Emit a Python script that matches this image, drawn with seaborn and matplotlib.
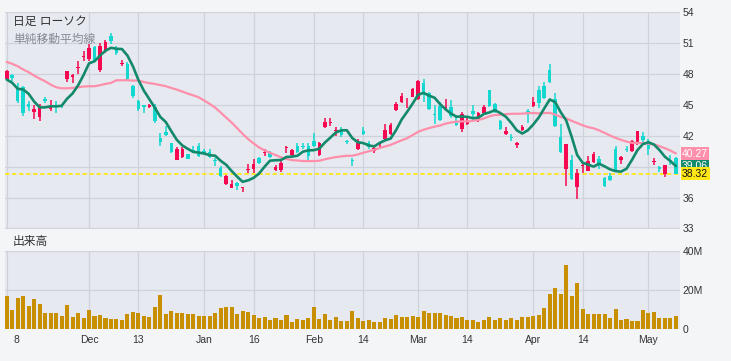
import matplotlib
matplotlib.use("Agg")
import matplotlib.pyplot as plt
import matplotlib.transforms as mtransforms
import numpy as np
import pandas as pd
import seaborn as sns

# ---------------- data ----------------
opens = [47.5, 47.85, 46.6, 46.75, 45.1, 44.3, 43.85, 45.55, 44.55, 44.95,
         44.85, 47.5, 47.68, 48.6, 49.65, 49.4, 50.6, 48.42, 50.2, 51.65,
         50.5, 49.0, 48.95, 46.8, 45.35, 44.95, 44.8, 44.8, 41.8, 42.35,
         41.25, 39.65, 39.95, 40.2, 40.65, 41.05, 40.5, 40.45, 39.6, 38.9,
         37.3, 36.97, 37.45, 36.95, 38.7, 38.8, 39.8, 40.35, 40.35, 38.7,
         38.7, 40.8, 40.15, 41.0, 41.05, 41.0, 41.5, 40.13, 42.85, 43.28,
         42.45, 42.55, 41.45, 39.65, 40.68, 42.45, 41.25, 40.52, 41.15, 41.65,
         42.13, 44.5, 45.25, 44.95, 45.77, 45.52, 47.1, 46.1, 44.1, 44.87,
         44.65, 44.77, 43.25, 42.68, 43.16, 44.4, 43.58, 44.23, 46.42, 45.03,
         43.42, 42.13, 41.9, 41.13, 42.55, 44.35, 44.87, 46.48, 46.78, 48.35,
         45.6, 41.86, 38.8, 39.6, 37.03, 39.05, 38.6, 39.45, 39.77, 37.9,
         38.1, 40.75, 39.63, 40.74, 40.55, 41.2, 41.95, 41.45, 39.42, 38.95,
         38.26, 39.6, 39.8]
highs = [48.4, 48.0, 47.15, 46.8, 45.4, 45.0, 45.05, 45.8, 45.45, 45.4,
         45.0, 48.3, 48.0, 49.25, 50.2, 50.85, 50.75, 50.95, 51.3, 51.95,
         50.7, 49.3, 49.15, 46.95, 45.5, 45.0, 45.1, 45.1, 42.25, 42.95,
         41.3, 40.9, 40.9, 40.25, 41.0, 41.25, 40.75, 40.7, 39.8, 39.05,
         38.2, 37.7, 37.5, 37.05, 39.25, 39.75, 39.9, 40.75, 40.5, 39.15,
         39.55, 41.0, 40.7, 41.25, 41.3, 41.25, 42.3, 41.4, 43.75, 43.75,
         42.8, 42.85, 41.55, 39.85, 41.7, 42.85, 41.5, 40.95, 41.42, 43.1,
         43.25, 45.25, 46.1, 45.7, 46.65, 47.45, 47.55, 46.25, 45.0, 45.25,
         45.6, 45.45, 43.9, 44.3, 43.75, 44.95, 44.3, 44.97, 46.45, 45.2,
         43.5, 42.87, 42.15, 41.42, 43.0, 44.55, 45.77, 46.87, 47.2, 49.0,
         46.15, 43.1, 41.2, 40.13, 38.8, 39.3, 40.0, 40.4, 40.03, 37.97,
         38.4, 41.0, 40.03, 41.0, 41.55, 42.5, 42.35, 41.65, 39.87, 39.05,
         39.2, 40.1, 39.9]
lows = [47.45, 47.35, 45.2, 43.95, 44.4, 43.6, 43.4, 45.2, 44.4, 44.25,
        44.7, 47.25, 47.1, 48.0, 49.25, 49.2, 49.15, 48.15, 50.0, 50.85,
        49.8, 48.75, 47.45, 45.7, 44.4, 44.25, 44.7, 43.25, 41.0, 41.95,
        40.3, 39.6, 39.85, 39.7, 40.35, 39.95, 40.2, 39.8, 39.05, 37.95,
        37.2, 36.9, 36.7, 36.55, 38.4, 38.4, 39.25, 40.05, 39.85, 38.6,
        38.5, 40.3, 40.05, 40.3, 40.7, 39.65, 40.9, 40.03, 42.7, 42.95,
        42.0, 41.85, 41.15, 39.05, 40.6, 42.05, 40.75, 40.35, 40.94, 41.55,
        42.03, 44.4, 45.15, 44.7, 45.75, 45.45, 45.3, 44.45, 43.1, 43.4,
        44.55, 43.75, 42.95, 42.35, 43.0, 43.75, 43.3, 44.1, 44.8, 44.25,
        42.6, 42.03, 41.5, 40.85, 42.45, 43.25, 44.8, 44.7, 45.6, 47.13,
        42.85, 40.35, 37.12, 37.7, 35.85, 38.4, 38.55, 39.35, 38.75, 37.05,
        37.6, 38.5, 39.23, 40.42, 40.45, 41.1, 41.4, 40.1, 39.16, 38.5,
        38.0, 39.2, 38.3]
closes = [48.3, 47.6, 45.35, 44.25, 44.8, 44.55, 44.8, 45.35, 44.8, 44.75,
          44.8, 48.25, 47.9, 48.7, 49.75, 50.5, 49.25, 50.68, 51.05, 51.15,
          50.05, 49.1, 47.55, 45.85, 44.55, 44.8, 44.97, 43.4, 41.4, 42.05,
          40.4, 40.75, 40.7, 39.75, 40.55, 40.05, 40.3, 39.9, 39.5, 38.1,
          38.1, 37.3, 37.15, 37.0, 38.8, 39.3, 39.4, 40.45, 39.95, 39.0,
          39.4, 40.9, 40.6, 40.4, 40.95, 40.05, 41.0, 41.32, 43.35, 43.35,
          42.55, 42.05, 41.35, 39.55, 41.32, 42.15, 40.95, 40.84, 41.25, 42.6,
          43.0, 45.1, 45.9, 45.0, 46.58, 47.29, 46.0, 44.55, 44.0, 43.52,
          44.75, 43.9, 43.05, 44.13, 43.32, 44.06, 44.23, 44.81, 44.87, 44.39,
          42.68, 42.45, 41.75, 41.32, 42.87, 44.25, 45.26, 45.15, 45.7, 47.22,
          42.93, 40.41, 41.15, 37.77, 38.4, 39.15, 39.5, 40.2, 39.16, 37.13,
          37.7, 38.65, 39.93, 40.58, 41.45, 42.42, 41.6, 40.75, 39.5, 38.8,
          39.15, 39.5, 38.32]
volumes_m = [16.9, 9.7, 15.9, 16.9, 11.8, 15.4, 12.8, 8.0, 8.2, 8.2,
             6.7, 12.3, 6.2, 8.2, 5.6, 9.7, 6.7, 7.2, 5.6, 5.1,
             5.1, 4.6, 7.7, 8.7, 8.2, 6.7, 6.2, 11.3, 17.4, 7.7,
             9.2, 8.2, 8.2, 7.7, 7.7, 6.7, 6.7, 6.7, 8.2, 10.8,
             11.3, 11.3, 7.7, 9.2, 8.7, 7.2, 5.6, 6.2, 4.6, 5.6,
             4.6, 7.2, 3.6, 5.1, 4.6, 5.6, 11.3, 5.1, 7.7, 4.6,
             6.2, 4.1, 4.1, 9.2, 5.6, 4.1, 4.6, 3.6, 3.6, 5.6,
             5.1, 7.2, 6.2, 6.2, 6.7, 6.2, 9.2, 8.2, 8.2, 8.2,
             7.2, 6.7, 5.6, 6.2, 4.6, 4.6, 3.6, 4.6, 6.2, 4.6,
             5.6, 4.6, 5.6, 4.6, 6.2, 6.2, 6.7, 7.2, 10.8, 18.0,
             21.0, 18.0, 32.8, 16.9, 23.6, 10.3, 7.7, 7.7, 7.7, 7.7,
             5.6, 10.3, 4.6, 5.1, 4.1, 4.1, 9.7, 8.2, 8.7, 5.6,
             5.6, 5.6, 6.7]
# moving-average values before a full window is available
ma5_head = [47.45, 47.13, 46.55, 46.48]
ma25_head = [49.16, 48.97, 48.74, 48.42, 48.16, 47.83, 47.54, 47.28, 46.96, 46.7,
             46.6, 46.6, 46.63, 46.7, 46.77, 46.8, 46.8, 46.9, 47.03, 47.12,
             47.38, 47.38, 47.38, 47.35]
tick_pos = [0, 15, 24, 36, 45, 56, 65, 75, 84, 96, 105, 117]
tick_labels = ["8", "Dec", "13", "Jan", "16", "Feb", "14", "Mar", "14", "Apr", "14", "May"]
price_ticks = [33, 36, 39, 42, 45, 48, 51, 54]
vol_ticks = [0, 20, 40]
vol_tick_labels = ["0", "20M", "40M"]
last_labels = ["40.27", "39.06", "38.32"]   # SMA25, SMA5, last close

# ---------------- style ----------------
sns.set_theme(style="darkgrid")
plt.rcParams['font.family'] = ['Liberation Sans', 'Noto Sans CJK JP', 'DejaVu Sans']

FIG_BG = '#f4f5f7'
AX_BG = '#e6e9f0'
GRID = '#cfd2db'
UP = '#f5084f'
DOWN = '#14d7cf'
GREEN = '#13896b'
PINK = '#ff8fab'
YELLOW = '#ffe617'
VOL = '#c88f00'
TXT = '#333333'

n = len(closes)
idx = np.arange(n)
close_s = pd.Series(closes, dtype=float)
ma5 = close_s.rolling(5).mean()
ma5.iloc[:len(ma5_head)] = ma5_head
ma25 = close_s.rolling(25).mean()
ma25.iloc[:len(ma25_head)] = ma25_head

W, H = 731, 361
fig = plt.figure(figsize=(W / 100, H / 100), dpi=100, facecolor=FIG_BG)


def rect(l, t, r, b):
    return [l / W, 1 - b / H, (r - l) / W, (b - t) / H]


ax = fig.add_axes(rect(5, 11.5, 680, 229))
axv = fig.add_axes(rect(5, 251, 680, 329))

# ---------------- candles ----------------
o = np.array(opens); c = np.array(closes)
hi = np.array(highs); lo = np.array(lows)
cols = np.where(c >= o, UP, DOWN)
ax.axhline(float(last_labels[2]), color=YELLOW, lw=1.3, ls=(0, (2.4, 1.5)), zorder=2.5)
ax.vlines(idx, lo, hi, colors=cols, lw=1.1, zorder=3)
ax.bar(idx, np.maximum(np.abs(c - o), 0.07), bottom=np.minimum(o, c),
       width=0.64, color=cols, linewidth=0, zorder=4)

sns.lineplot(x=idx, y=ma25.values, ax=ax, color=PINK, lw=1.6, zorder=5)
sns.lineplot(x=idx, y=ma5.values, ax=ax, color=GREEN, lw=1.9, zorder=6)

# ---------------- volume ----------------
sns.barplot(x=idx, y=volumes_m, ax=axv, native_scale=True, color=VOL,
            saturation=1, width=0.74, errorbar=None, linewidth=0, zorder=3)

# ---------------- axes styling ----------------
for a in (ax, axv):
    a.set_facecolor(AX_BG)
    a.set_xlim(-0.32, 122.75)
    a.set_xticks(tick_pos)
    a.grid(True, color=GRID, lw=0.9)
    a.set_axisbelow(True)
    for s in a.spines.values():
        s.set_visible(False)
    a.yaxis.tick_right()
    a.set_xlabel("")
    a.set_ylabel("")
    a.tick_params(length=0, labelsize=7.5, labelcolor=TXT)
    a.tick_params(axis='y', pad=2)

ax.set_ylim(32.95, 54.05)
ax.set_yticks(price_ticks)
ax.tick_params(labelbottom=False)

axv.set_ylim(-0.1, 40.2)
axv.set_yticks(vol_ticks)
axv.set_yticklabels(vol_tick_labels)
axv.set_xticklabels(tick_labels)
axv.tick_params(axis='x', pad=4)
first = axv.get_xticklabels()[0]
first.set_transform(first.get_transform() +
                    mtransforms.ScaledTranslation(0.092, 0, fig.dpi_scale_trans))

# ---------------- last-value tags ----------------
trans = mtransforms.blended_transform_factory(ax.transAxes, ax.transData)
tag_styles = [(PINK, 'white'), (GREEN, 'white'), (YELLOW, '#111111')]
for lab, (bg, fg) in zip(last_labels, tag_styles):
    ax.text(1.003, float(lab), lab, transform=trans, ha='left', va='center',
            fontsize=7.5, color=fg, clip_on=False, zorder=10,
            bbox=dict(boxstyle='square,pad=0.14', fc=bg, ec='none'))

# ---------------- titles ----------------
fig.text(13 / W, 1 - 22 / H, "日足 ローソク", fontsize=8.5, color=TXT, va='center')
fig.text(13 / W, 1 - 40 / H, "単純移動平均線", fontsize=8.5, color='#878a92', va='center')
fig.text(13 / W, 1 - 242 / H, "出来高", fontsize=8.5, color=TXT, va='center')

fig.savefig("out.png", dpi=100, facecolor=FIG_BG)
